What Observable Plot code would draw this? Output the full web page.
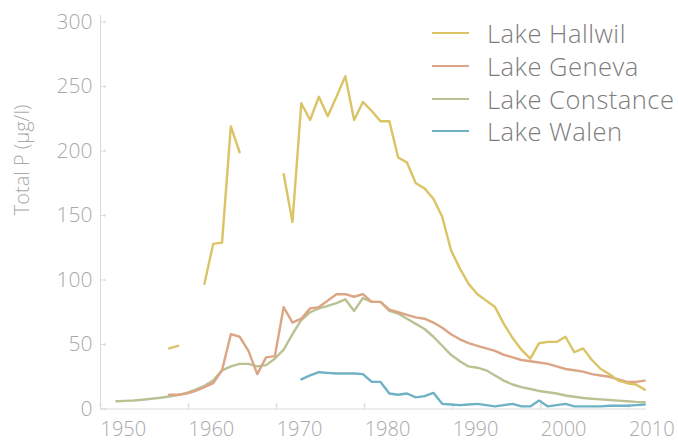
<!DOCTYPE html>
<html>
<head>
<meta charset="utf-8">
<script src="https://cdn.jsdelivr.net/npm/d3@7"></script>
<script src="https://cdn.jsdelivr.net/npm/@observablehq/plot@0.6"></script>
<style>
  html, body { margin: 0; padding: 0; background: #fff; }
  #wrap { position: relative; width: 678px; height: 441px; font-family: "Open Sans", sans-serif; font-weight: 300; }
  #legend { position: absolute; left: 432px; top: 17px; }
  .row { display: flex; align-items: center; height: 32.7px; }
  .sw { width: 37px; height: 0; border-top: 2.5px solid; margin-right: 18px; }
  .lab { font-size: 25.5px; letter-spacing: 0.5px; color: #7d7d7d; white-space: nowrap; line-height: 32px; }
</style>
</head>
<body>
<div id="wrap"><div id="legend"></div></div>
<script>
// ---- data (annual total phosphorus, µg/l) ----
const lakes = ["Lake Hallwil", "Lake Geneva", "Lake Constance", "Lake Walen"];
const colors = ["#dac466", "#dba586", "#bac293", "#6fb2c5"];

const hallwilYears = [1957,1958,1959,1960,1961,1962,1963,1964,1965,1966,1967,1968,1969,
  1970,1971,1972,1973,1974,1975,1976,1977,1978,1979,1980,1981,1982,1983,1984,1985,1986,1987,1988,1989,
  1990,1991,1992,1993,1994,1995,1996,1997,1998,1999,2000,2001,2002,2003,2004,2005,2006,2007,2008,2009,2010,2011];
const hallwil = [47,49,null,null,97,128,129,219,199,null,null,null,null,
  182,145,237,224,242,227,242,258,224,238,231,223,223,195,191,175,171,163,149,123,
  109,97,89,84,79,66,55,46,39,51,52,52,56,44,47,38,31,27,22,20,19,15];

const genevaYears = d3.range(1957, 2012);
const geneva = [11,11,12,14,17,20,30,58,56,45,27,40,41,
  79,67,70,78,79,84,89,89,87,89,83,83,77,75,73,71,70,67,63,58,
  54,51,49,47,45,42,40,38,37,36,35,33,31,30,29,27,26,25,23,21,21,22];

const constanceYears = d3.range(1951, 2012);
const constance = [6,6.3,6.6,7.2,7.9,8.7,9.7,10.8,12.5,15,18,22,30,33,35,35,33,34,39,
  46,58,69,75,78,80,82,85,76,86,83,83,76,74,70,66,62,56,49,42,
  37,33,32,30,26,22,19,17,15.5,14,13,12,10.5,9.5,8.5,8,7.5,7,6.5,6,5.5,5.3];

const walenYears = d3.range(1972, 2012);
const walen = [23,26,28.5,28,27.5,27.5,27.5,27,21,21,12,11,12,9,10,12.5,4,3.5,
  3,3.5,4,3,2,3,4,2,2,6.5,2,3,4,2,2,2,2,2.5,2.5,2.5,3,3.5];

const xTicks = [1950, 1960, 1970, 1980, 1990, 2000, 2010];
const yTicks = [0, 50, 100, 150, 200, 250, 300];
const yLabel = "Total P (µg/l)";

// annual values sit late in each year on the original time axis
const yearShift = 0.8;

function rows(name, years, vals) {
  return years.map((yr, i) => ({lake: name, year: yr + yearShift, value: vals[i]}));
}
const series = [
  rows("Lake Walen", walenYears, walen),
  rows("Lake Constance", constanceYears, constance),
  rows("Lake Geneva", genevaYears, geneva),
  rows("Lake Hallwil", hallwilYears, hallwil)
];

const axisColor = "#dadada";
const textColor = "#a9a9a9";

const chart = Plot.plot({
  width: 678,
  height: 441,
  marginLeft: 100,
  marginRight: 32,
  marginTop: 15,
  marginBottom: 32.5,
  style: {fontFamily: "Open Sans, sans-serif", fontWeight: 300, fontSize: "20px", background: "transparent"},
  x: {domain: [1950, 2012]},
  y: {domain: [0, 305]},
  color: {domain: lakes, range: colors},
  marks: [
    Plot.ruleX([1950], {stroke: axisColor, strokeWidth: 1}),
    Plot.ruleY([0], {stroke: axisColor, strokeWidth: 1}),
    Plot.vector(xTicks, {x: d => d, y: 0, length: 5, rotate: 0, anchor: "start", stroke: axisColor, strokeWidth: 1}),
    Plot.vector(yTicks, {x: 1950, y: d => d, length: 5, rotate: 90, anchor: "start", stroke: axisColor, strokeWidth: 1}),
    Plot.axisX({ticks: xTicks, tickSize: 0, tickPadding: 12.5, textAnchor: "start", tickFormat: d => String(d), fill: textColor, fontSize: 20, label: null}),
    Plot.axisY({ticks: yTicks, tickSize: 0, tickPadding: 8, fill: textColor, fontSize: 21, label: null}),
    Plot.text([yLabel], {frameAnchor: "left", text: d => d, dx: -78, dy: 3, rotate: -90, fill: textColor, fontSize: 20}),
    ...series.map(s => Plot.line(s, {x: "year", y: "value", stroke: "lake", strokeWidth: 2.4, strokeLinejoin: "round", strokeLinecap: "round"}))
  ]
});
document.getElementById("wrap").appendChild(chart);

const legend = document.getElementById("legend");
lakes.forEach((name, i) => {
  const row = document.createElement("div");
  row.className = "row";
  const sw = document.createElement("div");
  sw.className = "sw";
  sw.style.borderTopColor = colors[i];
  const lab = document.createElement("div");
  lab.className = "lab";
  lab.textContent = name;
  row.appendChild(sw);
  row.appendChild(lab);
  legend.appendChild(row);
});
</script>
</body>
</html>
